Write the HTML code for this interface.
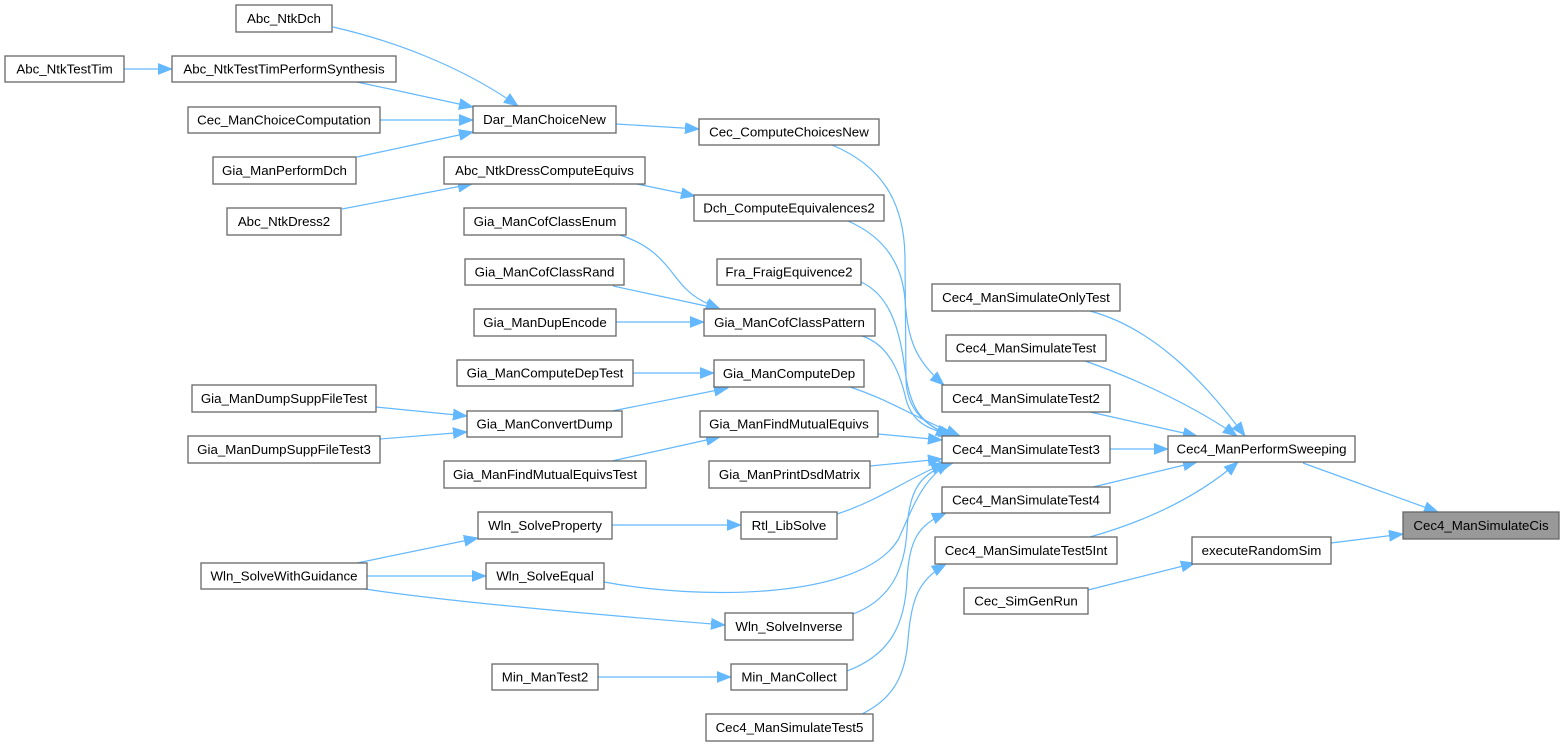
<!DOCTYPE html>
<html><head><meta charset="utf-8"><style>
html,body{margin:0;padding:0;background:#fff;}
svg{display:block;}
text{font-family:"Liberation Sans",Arial,sans-serif;font-size:13.3px;fill:#000;text-anchor:middle;}
.n{fill:#fff;stroke:#666;stroke-width:1.3;}
.e{fill:none;stroke:#63b8ff;stroke-width:1.2;}
</style></head><body>
<svg width="1564" height="747" viewBox="0 0 1564 747" xmlns="http://www.w3.org/2000/svg">
<defs>
<marker id="a" markerUnits="userSpaceOnUse" markerWidth="15" markerHeight="12" viewBox="0 0 15 12" refX="14" refY="6" orient="auto">
<path d="M0,0.5 L14,6 L0,11.5 z" fill="#63b8ff" stroke="#63b8ff" stroke-width="0.8"/>
</marker>
</defs>
<g marker-end="url(#a)">
<path class="e" d="M333,27 C390,40 460,65 518,106"/>
<path class="e" d="M124,69 L172,69"/>
<path class="e" d="M357,82 L473,107"/>
<path class="e" d="M380,120 L473,120"/>
<path class="e" d="M357,157 L473,132"/>
<path class="e" d="M616,124 L699,129"/>
<path class="e" d="M342,209 L472,184"/>
<path class="e" d="M637,184 L695,196"/>
<path class="e" d="M620,235 C660,248 668,270 685,288 C695,298 705,303 720,309"/>
<path class="e" d="M613,286 L720,309"/>
<path class="e" d="M616,322 L704,322"/>
<path class="e" d="M832,145 C880,165 905,200 905,260 L906,380 C907,410 925,425 950,436"/>
<path class="e" d="M848,221 C880,235 902,260 905,300 C908,340 915,360 944,385"/>
<path class="e" d="M861,282 C890,295 900,330 905,370 C910,410 922,425 953,436"/>
<path class="e" d="M862,336 C890,345 900,375 905,395 C910,420 925,430 957,436"/>
<path class="e" d="M633,373 L714,373"/>
<path class="e" d="M612,411 L728,388"/>
<path class="e" d="M376,407 L467,416"/>
<path class="e" d="M380,439 L467,432"/>
<path class="e" d="M850,387 C890,400 920,420 960,436"/>
<path class="e" d="M612,461 L720,437"/>
<path class="e" d="M878,434 L942,440"/>
<path class="e" d="M870,466 L942,459"/>
<path class="e" d="M357,563 L478,538"/>
<path class="e" d="M367,576 L486,576"/>
<path class="e" d="M365,589 C450,602 600,615 725,625"/>
<path class="e" d="M612,525 L741,525"/>
<path class="e" d="M837,514 C880,500 905,480 945,463"/>
<path class="e" d="M604,582 C700,600 860,600 898,540 C912,510 922,478 950,463"/>
<path class="e" d="M853,614 C890,600 905,570 907,530 C909,490 920,472 953,463"/>
<path class="e" d="M598,677 L731,677"/>
<path class="e" d="M847,671 C890,655 905,625 907,580 C909,540 918,525 946,513"/>
<path class="e" d="M862,714 C890,700 905,680 908,640 C911,600 918,580 946,564"/>
<path class="e" d="M1090,311 C1160,330 1210,390 1245,436"/>
<path class="e" d="M1085,361 C1140,380 1200,410 1237,436"/>
<path class="e" d="M1090,412 L1197,436"/>
<path class="e" d="M1110,449 L1168,449"/>
<path class="e" d="M1093,487 L1197,462"/>
<path class="e" d="M1090,537 C1150,520 1200,495 1238,462"/>
<path class="e" d="M1303,463 L1438,512"/>
<path class="e" d="M1331,543 L1403,534"/>
<path class="e" d="M1088,590 L1195,563"/>
</g>
<g>
<rect class="n" x="236" y="5" width="96" height="27"/><text x="284" y="23">Abc_NtkDch</text>
<rect class="n" x="5" y="56" width="119" height="26"/><text x="64.5" y="73.5">Abc_NtkTestTim</text>
<rect class="n" x="172" y="56" width="224" height="26"/><text x="284" y="73.5">Abc_NtkTestTimPerformSynthesis</text>
<rect class="n" x="188" y="107" width="192" height="26"/><text x="284" y="124.5">Cec_ManChoiceComputation</text>
<rect class="n" x="213" y="157" width="143" height="27"/><text x="284.5" y="175">Gia_ManPerformDch</text>
<rect class="n" x="227" y="208" width="114" height="27"/><text x="284" y="226">Abc_NtkDress2</text>
<rect class="n" x="473" y="106" width="143" height="27"/><text x="544.5" y="124">Dar_ManChoiceNew</text>
<rect class="n" x="699" y="119" width="180" height="26"/><text x="789" y="136.5">Cec_ComputeChoicesNew</text>
<rect class="n" x="444" y="157" width="201" height="27"/><text x="544.5" y="175">Abc_NtkDressComputeEquivs</text>
<rect class="n" x="694" y="195" width="190" height="26"/><text x="789" y="212.5">Dch_ComputeEquivalences2</text>
<rect class="n" x="464" y="208" width="162" height="27"/><text x="545" y="226">Gia_ManCofClassEnum</text>
<rect class="n" x="465" y="259" width="159" height="26"/><text x="544.5" y="276.5">Gia_ManCofClassRand</text>
<rect class="n" x="717" y="259" width="144" height="26"/><text x="789" y="276.5">Fra_FraigEquivence2</text>
<rect class="n" x="474" y="309" width="142" height="27"/><text x="545" y="327">Gia_ManDupEncode</text>
<rect class="n" x="704" y="309" width="171" height="27"/><text x="789.5" y="327">Gia_ManCofClassPattern</text>
<rect class="n" x="932" y="284" width="188" height="27"/><text x="1026" y="302">Cec4_ManSimulateOnlyTest</text>
<rect class="n" x="946" y="335" width="160" height="26"/><text x="1026" y="352.5">Cec4_ManSimulateTest</text>
<rect class="n" x="457" y="360" width="176" height="26"/><text x="545" y="377.5">Gia_ManComputeDepTest</text>
<rect class="n" x="714" y="360" width="150" height="27"/><text x="789" y="378">Gia_ManComputeDep</text>
<rect class="n" x="192" y="385" width="184" height="27"/><text x="284" y="403">Gia_ManDumpSuppFileTest</text>
<rect class="n" x="942" y="385" width="168" height="27"/><text x="1026" y="403">Cec4_ManSimulateTest2</text>
<rect class="n" x="467" y="411" width="155" height="26"/><text x="544.5" y="428.5">Gia_ManConvertDump</text>
<rect class="n" x="700" y="411" width="178" height="26"/><text x="789" y="428.5">Gia_ManFindMutualEquivs</text>
<rect class="n" x="188" y="436" width="192" height="27"/><text x="284" y="454">Gia_ManDumpSuppFileTest3</text>
<rect class="n" x="942" y="436" width="168" height="27"/><text x="1026" y="454">Cec4_ManSimulateTest3</text>
<rect class="n" x="1168" y="436" width="187" height="26"/><text x="1261.5" y="453.5">Cec4_ManPerformSweeping</text>
<rect class="n" x="444" y="461" width="202" height="27"/><text x="545" y="479">Gia_ManFindMutualEquivsTest</text>
<rect class="n" x="709" y="461" width="161" height="27"/><text x="789.5" y="479">Gia_ManPrintDsdMatrix</text>
<rect class="n" x="942" y="487" width="168" height="26"/><text x="1026" y="504.5">Cec4_ManSimulateTest4</text>
<rect class="n" x="478" y="512" width="134" height="27"/><text x="545" y="530">Wln_SolveProperty</text>
<rect class="n" x="741" y="512" width="96" height="27"/><text x="789" y="530">Rtl_LibSolve</text>
<rect x="1403" y="512" width="156" height="27" fill="#999" stroke="#666" stroke-width="1.3"/><text x="1481" y="530">Cec4_ManSimulateCis</text>
<rect class="n" x="935" y="537" width="182" height="27"/><text x="1026" y="555">Cec4_ManSimulateTest5Int</text>
<rect class="n" x="1192" y="537" width="139" height="27"/><text x="1261.5" y="555">executeRandomSim</text>
<rect class="n" x="201" y="563" width="166" height="26"/><text x="284" y="580.5">Wln_SolveWithGuidance</text>
<rect class="n" x="486" y="563" width="118" height="26"/><text x="545" y="580.5">Wln_SolveEqual</text>
<rect class="n" x="964" y="588" width="124" height="26"/><text x="1026" y="605.5">Cec_SimGenRun</text>
<rect class="n" x="725" y="613" width="128" height="27"/><text x="789" y="631">Wln_SolveInverse</text>
<rect class="n" x="492" y="664" width="106" height="26"/><text x="545" y="681.5">Min_ManTest2</text>
<rect class="n" x="731" y="664" width="116" height="26"/><text x="789" y="681.5">Min_ManCollect</text>
<rect class="n" x="706" y="714" width="167" height="27"/><text x="789.5" y="732">Cec4_ManSimulateTest5</text>
</g>
</svg>
</body></html>
